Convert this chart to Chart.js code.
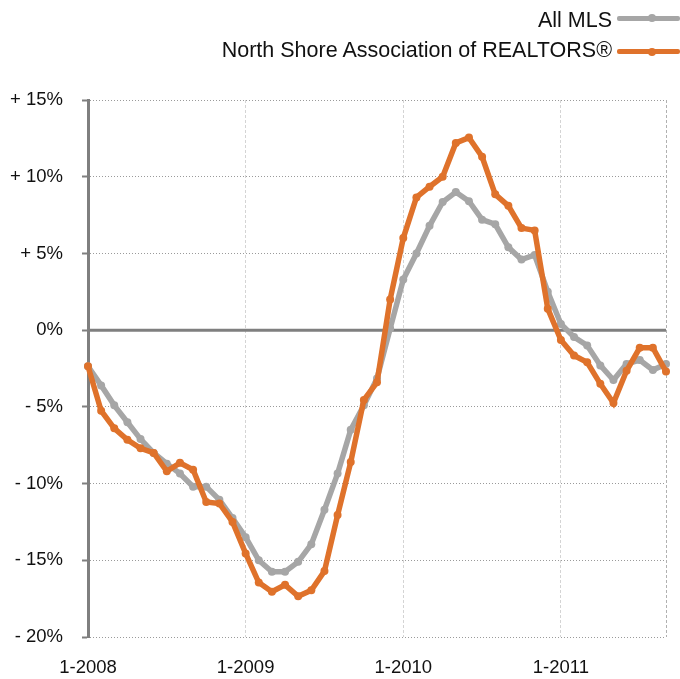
<!DOCTYPE html>
<html>
<head>
<meta charset="utf-8">
<script src="https://cdn.jsdelivr.net/npm/chart.js@4.4.0/dist/chart.umd.min.js"></script>
<style>
  html, body { margin: 0; padding: 0; background: #fff; }
  #wrap { position: relative; width: 680px; height: 679px; }
  #legend { position: absolute; left: 0; top: 0; width: 680px; height: 80px;
            font-family: "Liberation Sans", Arial, sans-serif; font-size: 21.5px; color: #111; }
  .lg-text { position: absolute; right: 68px; line-height: 30px; white-space: nowrap; }
  .lg-line { position: absolute; left: 617px; width: 63px; height: 5px; border-radius: 2px; }
  .lg-dot { position: absolute; left: 31px; top: -1.5px; width: 8px; height: 8px; border-radius: 50%; }
</style>
</head>
<body>
<div id="wrap">
  <canvas id="myChart" width="680" height="679"></canvas>
  <div id="legend"></div>
</div>
<script>
const months = [
  '1-2008','2-2008','3-2008','4-2008','5-2008','6-2008','7-2008','8-2008','9-2008','10-2008','11-2008','12-2008',
  '1-2009','2-2009','3-2009','4-2009','5-2009','6-2009','7-2009','8-2009','9-2009','10-2009','11-2009','12-2009',
  '1-2010','2-2010','3-2010','4-2010','5-2010','6-2010','7-2010','8-2010','9-2010','10-2010','11-2010','12-2010',
  '1-2011','2-2011','3-2011','4-2011','5-2011','6-2011','7-2011','8-2011','9-2011'
];
const xTickLabels = ['1-2008', '1-2009', '1-2010', '1-2011'];

const allMls = [
  -2.35, -3.6, -4.9, -6.0, -7.1, -8.0, -8.7, -9.35, -10.2, -10.2, -11.05, -12.25,
  -13.5, -15.0, -15.75, -15.75, -15.1, -13.95, -11.7, -9.35, -6.5, -4.9, -3.15, 0.1,
  3.3, 5.0, 6.8, 8.35, 9.0, 8.4, 7.2, 6.9, 5.4, 4.6, 4.9, 2.5,
  0.4, -0.45, -1.0, -2.3, -3.25, -2.2, -1.95, -2.6, -2.2
];
const northShore = [
  -2.35, -5.25, -6.4, -7.15, -7.7, -8.0, -9.2, -8.65, -9.1, -11.2, -11.3, -12.5,
  -14.55, -16.45, -17.05, -16.6, -17.35, -16.95, -15.7, -12.05, -8.6, -4.55, -3.4, 2.0,
  6.0, 8.65, 9.35, 10.0, 12.2, 12.55, 11.3, 8.85, 8.1, 6.65, 6.5, 1.4,
  -0.65, -1.65, -2.1, -3.5, -4.75, -2.65, -1.15, -1.15, -2.7
];

const yTicks = [-20, -15, -10, -5, 0, 5, 10, 15];
const yTickLabels = ['- 20%', '- 15%', '- 10%', '- 5%', '0%', '+ 5%', '+ 10%', '+ 15%'];

const series = [
  { name: 'All MLS', values: allMls, color: '#a6a6a6', order: 1 },
  { name: 'North Shore Association of REALTORS®', values: northShore, color: '#df722b', order: 0 }
];

const FONT = '"Liberation Sans", Arial, sans-serif';

// thick zero line, under the data lines
const zeroLine = {
  id: 'zeroLine',
  beforeDatasetsDraw(chart) {
    const { ctx, chartArea, scales } = chart;
    const y = scales.y.getPixelForValue(0);
    ctx.save();
    ctx.strokeStyle = '#7f7f7f';
    ctx.lineWidth = 3;
    ctx.beginPath();
    ctx.moveTo(chartArea.left, y);
    ctx.lineTo(chartArea.right, y);
    ctx.stroke();
    ctx.restore();
  }
};

const ctx = document.getElementById('myChart').getContext('2d');
const chart = new Chart(ctx, {
  type: 'line',
  data: {
    labels: months,
    datasets: series.map(s => ({
      label: s.name,
      data: s.values,
      borderColor: s.color,
      backgroundColor: s.color,
      pointBackgroundColor: s.color,
      pointBorderColor: s.color,
      borderWidth: 5.5,
      pointRadius: 4,
      pointBorderWidth: 0,
      tension: 0,
      order: s.order
    }))
  },
  options: {
    responsive: false,
    animation: false,
    devicePixelRatio: 1,
    layout: { padding: { top: 100, right: 14, left: 0, bottom: 0 } },
    plugins: { legend: { display: false }, tooltip: { enabled: false } },
    scales: {
      x: {
        type: 'category',
        offset: false,
        afterFit(s) { s.height = 42; s.paddingLeft = 0; s.paddingRight = 0; },
        grid: {
          drawTicks: false,
          color: c => {
            const i = c.index;
            if (i === months.length - 1) return '#b0b0b0';
            return xTickLabels.includes(months[i]) ? '#d4d4d4' : 'transparent';
          },
          lineWidth: 1
        },
        border: { display: false, dash: [3, 2] },
        ticks: {
          autoSkip: false,
          maxRotation: 0,
          padding: 20,
          color: '#111',
          font: { family: FONT, size: 18.5 },
          callback: (v, i) => xTickLabels.includes(months[i]) ? months[i] : ''
        }
      },
      y: {
        min: -20,
        max: 15,
        afterFit(s) { s.width = 88; },
        afterBuildTicks(s) { s.ticks = yTicks.map(v => ({ value: v })); },
        grid: {
          color: '#9a9a9a',
          lineWidth: 1,
          tickLength: 6,
          tickColor: '#7f7f7f',
          tickWidth: 2
        },
        border: { display: true, color: '#7f7f7f', width: 3, dash: [1, 2] },
        ticks: {
          padding: 19,
          color: '#111',
          font: { family: FONT, size: 18.5 },
          callback: v => yTickLabels[yTicks.indexOf(v)]
        }
      }
    }
  },
  plugins: [zeroLine]
});

// legend: text right-aligned, line sample on the right
const legend = document.getElementById('legend');
const rowTops = [5, 35];
const lineYs = [18.3, 51.7];
series.forEach((s, i) => {
  const t = document.createElement('div');
  t.className = 'lg-text';
  t.style.top = rowTops[i] + 'px';
  t.textContent = s.name;
  legend.appendChild(t);
  const l = document.createElement('div');
  l.className = 'lg-line';
  l.style.top = (lineYs[i] - 2.5) + 'px';
  l.style.background = s.color;
  l.innerHTML = `<div class="lg-dot" style="background:${s.color}"></div>`;
  legend.appendChild(l);
});
</script>
</body>
</html>
